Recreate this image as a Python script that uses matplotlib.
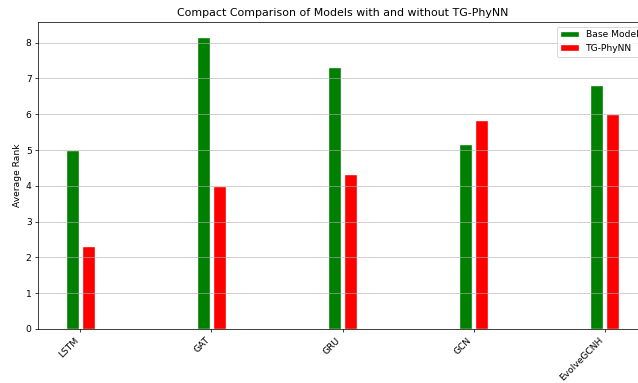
import matplotlib
matplotlib.use("Agg")
import matplotlib.pyplot as plt
import numpy as np

models = ["LSTM", "GAT", "GRU", "GCN", "EvolveGCNH"]
base_rank = [5.0, 8.17, 7.33, 5.17, 6.83]
tg_rank = [2.33, 4.0, 4.33, 5.83, 6.0]

DPI = 66
fig = plt.figure(figsize=(638/DPI, 383/DPI), dpi=DPI)
ax = fig.add_axes([38/638, 54/383, (647-38)/638, (329-22)/383])

x = np.arange(len(models))
w = 0.1
off = 0.0625
ax.bar(x - off, base_rank, w, color="green", edgecolor="white", linewidth=1.5, label="Base Model")
ax.bar(x + off, tg_rank, w, color="red", edgecolor="white", linewidth=1.5, label="TG-PhyNN")

ax.set_xticks(x)
ax.set_xticklabels(models, rotation=45, ha="right")
ax.set_ylabel("Average Rank")
ax.set_title("Compact Comparison of Models with and without TG-PhyNN")
ax.grid(axis="y", alpha=0.8)
ax.legend(loc="upper right")

fig.savefig("out.png", dpi=DPI)
